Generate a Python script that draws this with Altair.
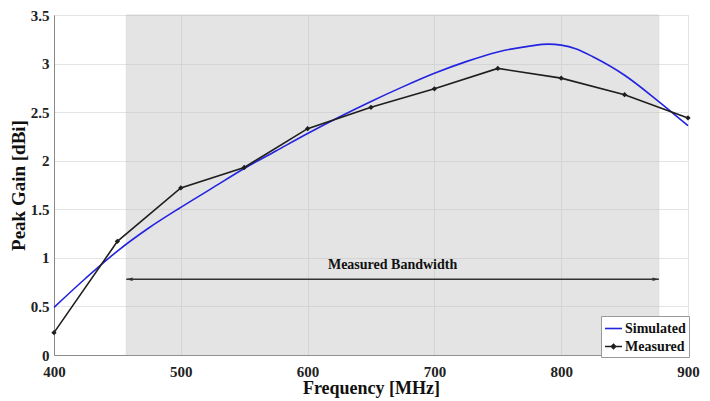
import altair as alt
import pandas as pd

# ---- data ----
freq_meas = [400, 450, 500, 550, 600, 650, 700, 750, 800, 850, 900]
gain_meas = [0.23, 1.17, 1.72, 1.93, 2.33, 2.55, 2.74, 2.95, 2.85, 2.68, 2.44]

freq_sim = [400, 425, 450, 475, 500, 525, 550, 575, 600, 625, 650, 675, 700,
            725, 750, 775, 790, 800, 812, 825, 850, 875, 900]
gain_sim = [0.49, 0.79, 1.07, 1.31, 1.52, 1.72, 1.92, 2.10, 2.28, 2.45, 2.61,
            2.76, 2.90, 3.02, 3.12, 3.18, 3.20, 3.19, 3.15, 3.07, 2.88, 2.63, 2.36]

series_names = ["Simulated", "Measured"]
series_colors = ["#2323e0", "#1e1e1e"]
band_start, band_end = 457, 877
band_label = "Measured Bandwidth"
arrow_level = 0.78
label_level = 0.85

x_ticks = [400, 500, 600, 700, 800, 900]
y_ticks = [0, 0.5, 1, 1.5, 2, 2.5, 3, 3.5]

FONT = "Liberation Serif"

sim_df = pd.DataFrame({"freq": freq_sim, "gain": gain_sim, "series": series_names[0]})
meas_df = pd.DataFrame({"freq": freq_meas, "gain": gain_meas, "series": series_names[1]})
band_df = pd.DataFrame({"x": [band_start], "x2": [band_end], "y": [0], "y2": [3.5]})
arrow_df = pd.DataFrame({"x": [band_start], "x2": [band_end], "y": [arrow_level]})
head_l_df = pd.DataFrame({"x": [band_start], "y": [arrow_level]})
head_r_df = pd.DataFrame({"x": [band_end], "y": [arrow_level]})
text_df = pd.DataFrame({"x": [(band_start + band_end) / 2], "y": [label_level], "t": [band_label]})

xscale = alt.Scale(domain=[400, 900], nice=False, zero=False)
yscale = alt.Scale(domain=[0, 3.5], nice=False)

xaxis = alt.Axis(values=x_ticks, title="Frequency [MHz]", format="d", tickSize=0,
                 labelPadding=9, titlePadding=0, labelFlush=False, titleFontSize=18)
yaxis = alt.Axis(values=y_ticks, title="Peak Gain [dBi]", format="~g", tickSize=0,
                 labelPadding=5, titlePadding=2, labelFlush=False, titleFontSize=19)

band = alt.Chart(band_df).mark_rect(fill="#bdbdbd", opacity=0.4, stroke="#b0b0b0",
                                    strokeWidth=1).encode(
    x=alt.X("x:Q", scale=xscale, axis=xaxis),
    x2="x2:Q",
    y=alt.Y("y:Q", scale=yscale, axis=yaxis),
    y2="y2:Q",
)

color_scale = alt.Scale(domain=series_names, range=series_colors)
shape_scale = alt.Scale(domain=series_names,
                        range=["M-1,0L1,0", "M-1,0L1,0M0,-0.25L0.25,0L0,0.25L-0.25,0Z"])

legend = alt.Legend(
    title=None, orient="none", legendX=547, legendY=301,
    symbolSize=289, symbolStrokeWidth=1.6, symbolOpacity=1,
    symbolFillColor="#1e1e1e", labelOpacity=1,
    labelFont=FONT, labelFontWeight="bold", labelFontSize=14, labelColor="#111",
    fillColor="white", strokeColor="#999999", padding=3, rowPadding=1,
    labelOffset=2,
)

sim = alt.Chart(sim_df).mark_line(strokeWidth=1.6, interpolate="monotone",
                                  color=series_colors[0]).encode(
    x=alt.X("freq:Q", scale=xscale),
    y=alt.Y("gain:Q", scale=yscale),
)

meas = alt.Chart(meas_df).mark_line(strokeWidth=1.6, color=series_colors[1]).encode(
    x=alt.X("freq:Q", scale=xscale),
    y=alt.Y("gain:Q", scale=yscale),
)

meas_pts = alt.Chart(meas_df).mark_point(shape="diamond", filled=True, size=28,
                                         color=series_colors[1], opacity=1).encode(
    x=alt.X("freq:Q", scale=xscale),
    y=alt.Y("gain:Q", scale=yscale),
)

# invisible layer that only carries the legend
legend_layer = alt.Chart(pd.concat([sim_df, meas_df])).mark_point(
    filled=False, opacity=0
).encode(
    x=alt.X("freq:Q", scale=xscale),
    y=alt.Y("gain:Q", scale=yscale),
    color=alt.Color("series:N", scale=color_scale, legend=legend),
    shape=alt.Shape("series:N", scale=shape_scale, legend=legend),
)

arrow = alt.Chart(arrow_df).mark_rule(color="#333333", strokeWidth=1.3).encode(
    x=alt.X("x:Q", scale=xscale), x2="x2:Q", y=alt.Y("y:Q", scale=yscale)
)

head_l = alt.Chart(head_l_df).mark_point(
    shape="M0,0L1.6,-0.45L1.6,0.45Z", filled=True, size=64, color="#333333", opacity=1
).encode(x=alt.X("x:Q", scale=xscale), y=alt.Y("y:Q", scale=yscale))

head_r = alt.Chart(head_r_df).mark_point(
    shape="M0,0L-1.6,-0.45L-1.6,0.45Z", filled=True, size=64, color="#333333", opacity=1
).encode(x=alt.X("x:Q", scale=xscale), y=alt.Y("y:Q", scale=yscale))

label = alt.Chart(text_df).mark_text(font=FONT, fontWeight="bold", fontSize=14,
                                     color="#111", baseline="bottom").encode(
    x=alt.X("x:Q", scale=xscale), y=alt.Y("y:Q", scale=yscale), text="t:N"
)

chart = alt.layer(band, sim, meas, meas_pts, arrow, head_l, head_r, label,
                  legend_layer).properties(
    width=634, height=340,
    background="white",
    autosize=alt.AutoSizeParams(type="none"),
    padding={"left": 46, "top": 7, "right": 14, "bottom": 44},
).configure_view(
    stroke="#c8c8c8", strokeWidth=1
).configure_axis(
    labelFont=FONT, labelFontWeight="bold", labelFontSize=15, labelColor="#222",
    titleFont=FONT, titleFontWeight="bold", titleColor="#111",
    gridColor="#e4e4e4", gridWidth=1, domainColor="#8a8a8a", domainWidth=1,
)

chart.save("out.html", embed_options={"renderer": "svg", "actions": False})
